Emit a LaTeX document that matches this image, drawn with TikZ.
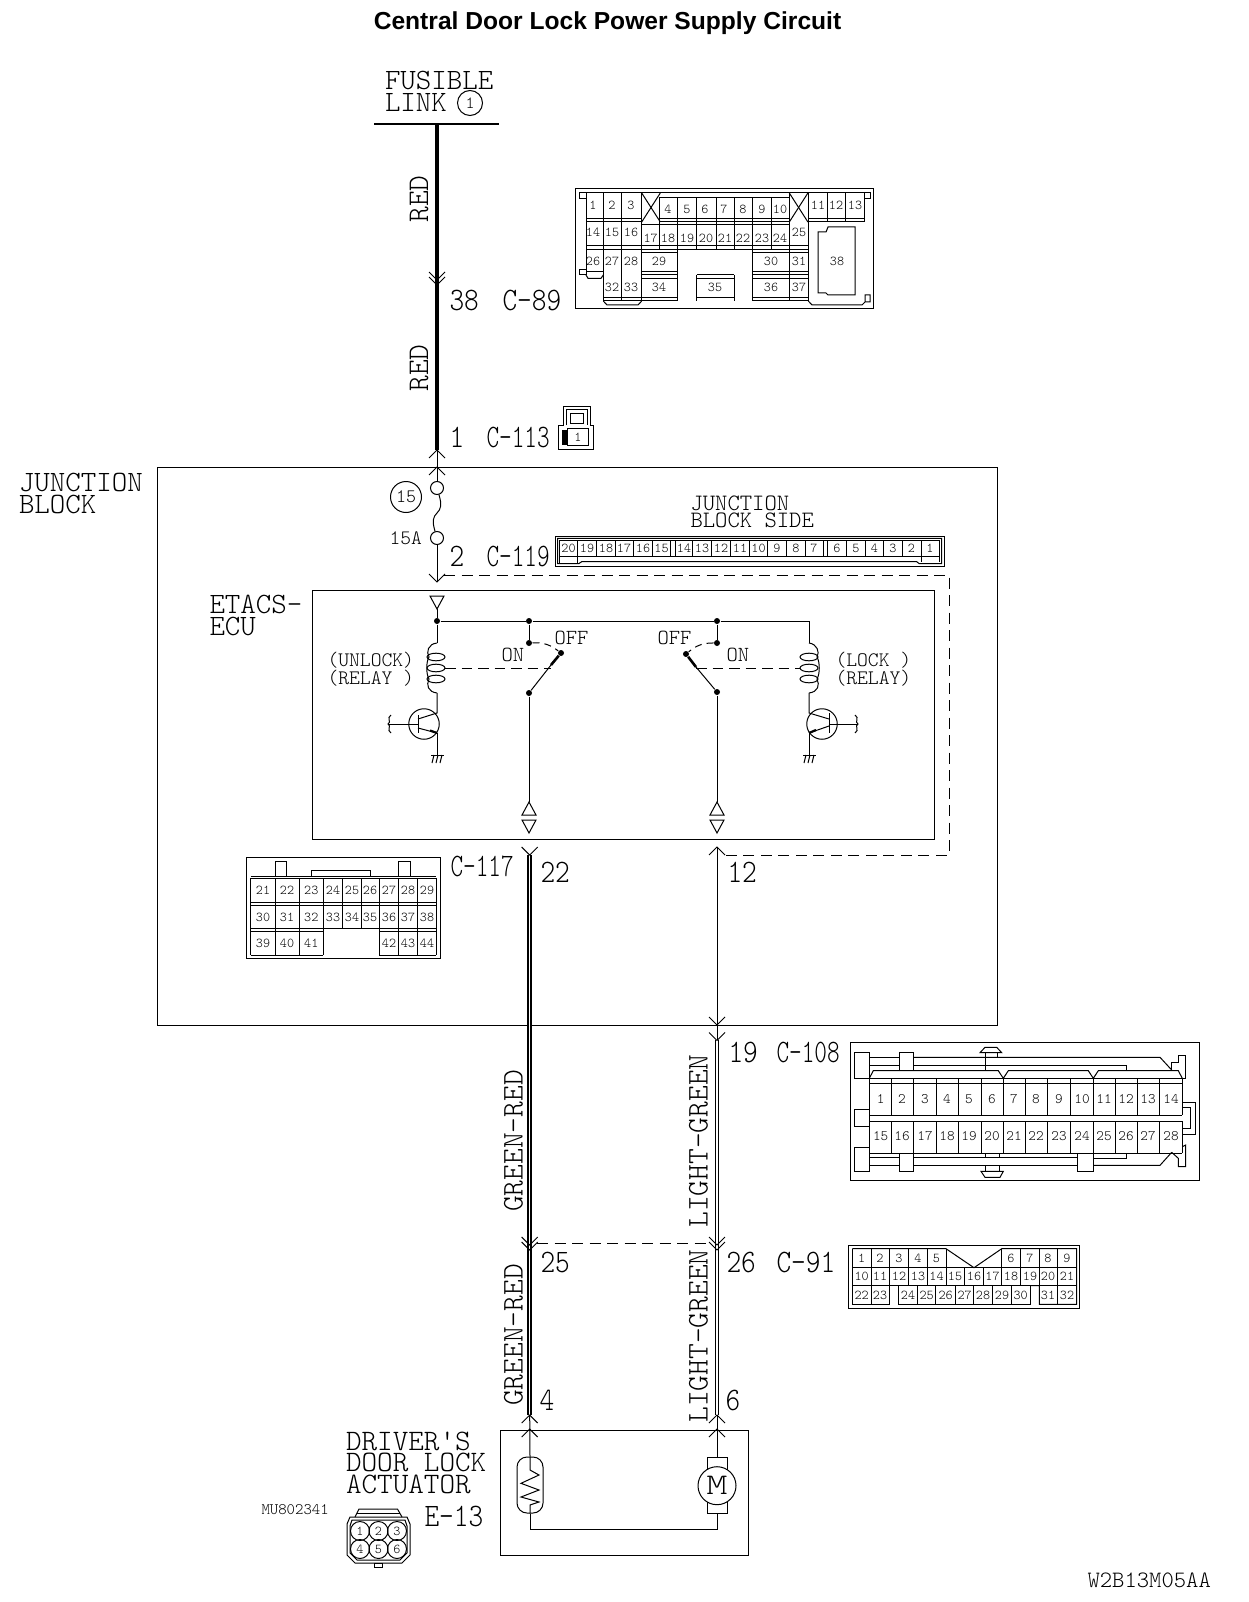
\documentclass[tikz,border=0pt]{standalone}
\usepackage{fontspec}
\usepackage{graphicx}
\usetikzlibrary{positioning}
\newfontfamily\titlefont{Liberation Sans}
\newcommand{\cad}[2]{\fontsize{#1}{#2}\fontseries{l}\ttfamily\selectfont}
\newcommand{\tagbox}[2][1]{\scalebox{#1}[1.17]{#2}}

\tikzset{
  chevup/.pic={\draw (-8,8) -- (0,0) -- (8,8);},
  chevdn/.pic={\draw (-8,-8) -- (0,0) -- (8,-8);},
  triup/.pic={\draw (-7,13) -- (0,0) -- (7,13) -- cycle;},
  tridn/.pic={\draw (-7,-13) -- (0,0) -- (7,-13) -- cycle;},
}

\begin{document}
\begin{tikzpicture}[
x=1pt,y=-1pt,line width=1pt,
wirebold/.style={line width=4pt},
wiredbl/.style={double,double distance=1.5pt,line width=1.6pt},
linkdash/.style={dashed,dash pattern=on 11pt off 6.5pt},
relaydash/.style={dashed,dash pattern=on 10.5pt off 6pt},
dotpin/.style={circle,fill=black,inner sep=0pt,minimum size=6pt},
pinnum/.style={font=\cad{13.5}{13.5},inner sep=0pt},
bigpin/.style={font=\cad{14.5}{14.5},inner sep=0pt},
tagtxt/.style={font=\cad{28}{22},inner sep=0pt,anchor=base west},
blocktxt/.style={font=\cad{29.5}{22},inner sep=0pt,anchor=north west,align=left},
colourtxt/.style={font=\cad{30}{22},inner sep=0pt,anchor=base,rotate=90},
midtxt/.style={font=\cad{23.5}{17},inner sep=0pt,anchor=north west,align=left},
relaytxt/.style={font=\cad{20.6}{18},inner sep=0pt,anchor=north west,align=left},
smalltxt/.style={font=\cad{21.5}{18},inner sep=0pt,anchor=north west,align=left}]
    \useasboundingbox (0,0) rectangle (1248,1602);

    \node[font=\titlefont\bfseries\fontsize{24.6}{25}\selectfont,inner sep=0pt] (title) at (607.5,23) {Central Door Lock Power Supply Circuit};

    % Fusible link and first wire
    \node[blocktxt] (fusible) at (384.5,71) {FUSIBLE\\LINK};
    \node[draw,circle,minimum size=25pt,inner sep=0pt,font=\cad{17}{17}] (fl1) at (470,103) {1};
    \coordinate (barl) at (374,124);
    \coordinate (barr) at (499,124);
    \coordinate (feedtop) at (437,124);
    \coordinate (feedend) at (437,450);
    \draw[line width=2pt] (barl) -- (barr);
    \draw[wirebold] (feedtop) -- (feedend);
    \pic at (437,285) {chevdn};
    \pic at (437,280) {chevdn};
    \pic at (437,450) {chevup};
    \pic at (437,467) {chevup};
    \node[colourtxt] (red1) at (428,199) {RED};
    \node[colourtxt] (red2) at (428,368) {RED};
    \node[tagtxt] (pin38) at (449,310) {\tagbox{38}};
    \node[tagtxt] (c89) at (502,310) {\tagbox{C-89}};
    \node[tagtxt] (pin1) at (449,447) {\tagbox{1}};
    \node[tagtxt] (c113) at (486,447) {\tagbox[0.86]{C-113}};

    % C-113
    \draw (563,425) |- (590,406) -- (590,425) -- (593.5,425) |- (558.5,449) |- cycle;
    \draw (566,425) |- (587,409) -- (587,425);
    \draw (570,413) rectangle (583,423);
    \draw (567,428) rectangle (588,445);
    \fill (562,430) rectangle (567,445);
    \node[pinnum] (c113-1) at (578,437) {1};

    % C-89
    \draw (575,189) rectangle (873,309);
    \draw (579,199) -- (579,193) -- (870,193) -- (870,199) -- (864,199);
    \draw (579,199) -- (586,199);
    \draw (586,193) -- (586,275) -- (579,275) -- (579,269.3) -- (586,269.3);
    \draw (586,271.7) -- (603.3,271.7);
    \draw (586,275) -- (588,278.3) -- (601,278.3) -- (603.3,275);
    \foreach \x in {603.3,621.7,641.7,789.3,808.3} \draw (\x,193) -- (\x,301);
    \foreach \x in {827.7,845.7,864} \draw (\x,193) -- (\x,222);
    \foreach \x in {659.3,677.3,696.7,716,734,752.7,771.3} \draw (\x,198) -- (\x,249);
    \draw (659.3,198) -- (789.3,198);
    \foreach \y in {218.3,221.7} {
      \draw (586,\y) -- (641.7,\y);
      \draw (659.3,\y) -- (789.3,\y);
      \draw (808.3,\y) -- (864,\y);
    }
    \draw (641.7,225) -- (789.3,225);
    \foreach \y in {246,249.3} {
      \draw (586,\y) -- (641.7,\y);
      \draw (641.7,\y) -- (808.3,\y);
    }
    \foreach \x in {641.7,789.3} {
      \draw (\x,193) -- (\x+18.6,222);
      \draw (\x+18.6,193) -- (\x,222);
    }
    \draw (677.3,249.3) -- (677.3,301);
    \draw (752.7,249.3) -- (752.7,301);
    \draw (696.7,275) -- (696.7,301);
    \draw (734,275) -- (734,301);
    \foreach \y in {253,271.7,275,278.3} {
      \draw (641.7,\y) -- (677.3,\y);
      \draw (752.7,\y) -- (808.3,\y);
    }
    \draw (696.7,275) -- (734,275);
    \draw (696.7,278.3) -- (734,278.3);
    \draw (603.3,297.3) -- (677.3,297.3);
    \draw (696.7,297.3) -- (734,297.3);
    \draw (752.7,297.3) -- (808.3,297.3);
    \draw (603.3,301) -- (677.3,301);
    \draw (752.7,301) -- (808.3,301);
    \draw (603.3,301) -- (607,305) -- (638,305) -- (641.7,301);
    \draw (808.3,301) -- (812,305) -- (862,305) -- (865,302) -- (870,302) -- (870,295) -- (865,295) -- (865,302);
    \draw (818,232) -- (826,232) -- (828,227) -- (855,227) -- (855,295) -- (828,295) -- (826,293) -- (818,293) -- cycle;
    \foreach \x/\n in {593/1,612/2,631/3,818/11,836/12,855/13} \node[pinnum] (ca\n) at (\x,205) {\n};
    \foreach \x/\n in {668/4,687/5,705/6,724/7,743/8,762/9,780/10} \node[pinnum] (ca\n) at (\x,209) {\n};
    \foreach \x/\n in {593/14,612/15,631/16,799/25} \node[pinnum] (ca\n) at (\x,232) {\n};
    \foreach \x/\n in {650.7/17,668/18,687/19,706/20,725/21,743/22,762/23,780/24} \node[pinnum] (ca\n) at (\x,238) {\n};
    \foreach \x/\n in {593/26,612/27,631/28,659/29,771/30,799/31,837/38} \node[pinnum] (ca\n) at (\x,261) {\n};
    \foreach \x/\n in {612/32,631/33,659/34,715/35,771/36,799/37} \node[pinnum] (ca\n) at (\x,287) {\n};

    % Junction block
    \draw (157.5,467) rectangle (997,1025);
    \node[blocktxt] (jblock) at (18.5,472.5) {JUNCTION\\BLOCK};
    \node[draw,circle,minimum size=31pt,inner sep=0pt,font=\cad{19}{19}] (fuseno) at (406,497) {15};
    \node[draw,circle,minimum size=13pt,inner sep=0pt] (fusea) at (437,488) {};
    \node[draw,circle,minimum size=13pt,inner sep=0pt] (fuseb) at (437,538) {};
    \coordinate (feedin) at (437,450);
    \coordinate (fusechev) at (437,582);
    \draw (feedin) -- (fusea);
    \draw (fusea) .. controls (442,505) and (441,509) .. (437,513) .. controls (433,517) and (432,521) .. (fuseb);
    \draw (fuseb) -- (fusechev);
    \pic at (fusechev) {chevdn};
    \node[font=\cad{20.5}{20},inner sep=0pt,anchor=base west] (amps) at (389,544) {15A};
    \node[tagtxt] (pin2) at (449,566) {\tagbox{2}};
    \node[tagtxt] (c119) at (486,566) {\tagbox[0.86]{C-119}};
    \node[midtxt] (jbside) at (690,495) {JUNCTION\\BLOCK SIDE};

    % C-119
    \draw (555,536) rectangle (944,566);
    \draw (557.5,538.3) -- (941.5,538.3) -- (941.5,563.5) -- (919,563.5) -- (916.7,561.7) -- (581.7,561.7) -- (579,563.5) -- (557.5,563.5) -- cycle;
    \draw (559.3,540) -- (939.3,540);
    \draw (559.3,556) -- (939.3,556);
    \foreach \x in {559.3,577.7,596.7,615.3,633.3,652.3,670.7,675,692.7,711.7,730.7,749.3,767.7,786.7,805.3,823.3,827.3,846.7,865.7,883.3,902.3,921,939.3} \draw (\x,540) -- (\x,556);
    \draw (559.3,556) -- (559.3,563.5);
    \draw (577.7,556) -- (577.7,563.5);
    \draw (921,556) -- (921,561.7);
    \draw (939.3,556) -- (939.3,561.7);
    \foreach \x/\n in {568.5/20,587/19,606/18,624/17,643/16,661.5/15,684/14,702/13,721/12,740/11,758.5/10,777/9,796/8,814/7,837/6,856/5,874.5/4,893/3,911.5/2,930/1}
      \node[pinnum] (cj\n) at (\x,548.7) {\n};

    % Dashed feed
    \coordinate (dashst) at (444,575);
    \coordinate (dashtr) at (949,575);
    \coordinate (dashbr) at (949,855);
    \coordinate (dashen) at (725,855);
    \draw[linkdash] (dashst) -- (dashtr) -- (dashbr) -- (dashen);

    % ETACS-ECU
    \draw (312,590) rectangle (934,839);
    \node[blocktxt] (etacs) at (209,594.5) {ETACS-\\ECU};
    \pic at (437,609) {tridn};
    \node[dotpin] (bus1) at (437,621) {};
    \node[dotpin] (bus2) at (529,621) {};
    \node[dotpin] (bus3) at (717,621) {};
    \coordinate (bus4) at (809,621);
    \coordinate (buscap) at (437,609);
    \draw (buscap) -- (bus1) -- (bus2) -- (bus3) -- (bus4);

    % Unlock relay
    \coordinate (coila) at (437,643);
    \coordinate (coilb) at (437,693);
    \draw (bus1) -- (coila);
    \draw (coila) .. controls (428,644) and (426,652) .. (429,657) .. controls (426,662) and (426,674) .. (429,679) .. controls (426,685) and (428,692) .. (coilb);
    \foreach \y in {657,668,679} \draw (436,\y) ellipse [x radius=9,y radius=3.8];
    \node[relaytxt] (unlockrly) at (327,652) {(UNLOCK)\\(RELAY )};
    \node[dotpin] (swa) at (529,643) {};
    \node[dotpin] (swb) at (561,653) {};
    \node[dotpin] (swc) at (529,693) {};
    \coordinate (swm) at (551,665);
    \coordinate (swd) at (551,668);
    \coordinate (coilm) at (445,668);
    \draw (bus2) -- (swa);
    \draw (swc) -- (swm);
    \draw[line width=2.6pt] (swm) -- (swb);
    \draw[dashed,dash pattern=on 7pt off 5pt] (swa) to[bend left=20] (swb);
    \draw[relaydash] (coilm) -- (swd);
    \node[smalltxt] (offa) at (554,631) {OFF};
    \node[smalltxt] (ona) at (501,648) {ON};
    \node[draw,circle,minimum size=30.5pt,inner sep=0pt] (qa) at (424,724) {};
    \coordinate (qabase) at (418,724);
    \coordinate (qain) at (389,724);
    \coordinate (qaem) at (437,733);
    \coordinate (qagnd) at (437,755);
    \draw (coilb) -- (437,713) -- (418,719);
    \draw (418,715) -- (418,733);
    \draw (qain) -- (qabase);
    \draw (418,728) -- (qaem);
    \draw[line width=2.2pt] (430,730.5) -- (qaem);
    \draw (qaem) -- (qagnd);
    \draw (391,715) .. controls (386,718) and (392,722) .. (388,724) .. controls (392,726) and (386,730) .. (391,733);
    \draw (431,755) -- (444,755);
    \foreach \x in {434,438,442} \draw (\x,755) -- (\x-2,763);

    % Lock relay
    \coordinate (coilc) at (809,643);
    \coordinate (coild) at (809,693);
    \draw (bus4) -- (coilc);
    \draw (coilc) .. controls (817,644) and (820,652) .. (817,657) .. controls (820,662) and (820,674) .. (817,679) .. controls (820,685) and (818,692) .. (coild);
    \foreach \y in {657,668,679} \draw (809,\y) ellipse [x radius=9,y radius=3.8];
    \node[relaytxt] (lockrly) at (835,652) {(LOCK )\\(RELAY)};
    \node[dotpin] (swe) at (717,643) {};
    \node[dotpin] (swf) at (686,654) {};
    \node[dotpin] (swg) at (717,692) {};
    \coordinate (swn) at (696,667);
    \coordinate (swh) at (696,668);
    \coordinate (coiln) at (800,668);
    \draw (bus3) -- (swe);
    \draw (swg) -- (swn);
    \draw[line width=2.6pt] (swn) -- (swf);
    \draw[dashed,dash pattern=on 7pt off 5pt] (swe) to[bend right=20] (swf);
    \draw[relaydash] (swh) -- (coiln);
    \node[smalltxt] (offb) at (657,631) {OFF};
    \node[smalltxt] (onb) at (726,648) {ON};
    \node[draw,circle,minimum size=30.5pt,inner sep=0pt] (qb) at (822,724) {};
    \coordinate (qbbase) at (829,724);
    \coordinate (qbin) at (857,724);
    \coordinate (qbem) at (809,733);
    \coordinate (qbgnd) at (809,755);
    \draw (coild) -- (809,713) -- (829,719);
    \draw (829,713) -- (829,733);
    \draw (qbin) -- (qbbase);
    \draw (829,726) -- (qbem);
    \draw[line width=2.2pt] (816,730) -- (qbem);
    \draw (qbem) -- (qbgnd);
    \draw (855,715) .. controls (860,718) and (854,722) .. (858,724) .. controls (854,726) and (860,730) .. (855,733);
    \draw (803,755) -- (816,755);
    \foreach \x in {806,810,814} \draw (\x,755) -- (\x-2,763);

    % Outputs to C-117
    \coordinate (outa) at (529,802);
    \coordinate (outb) at (717,802);
    \draw (swc) -- (outa);
    \draw (swg) -- (outb);
    \foreach \x in {529,717} {
      \pic at (\x,802) {triup};
      \pic at (\x,833) {tridn};
    }
    \coordinate (wa1) at (529.7,855);
    \coordinate (wa2) at (529.7,1415);
    \coordinate (wb0) at (717,847);
    \coordinate (wb1) at (717,1040);
    \coordinate (wb2) at (717,1415);
    \draw[wiredbl] (wa1) -- (wa2);
    \draw (wb0) -- (wb1);
    \draw[wiredbl] (wb1) -- (wb2);
    \pic at (529.7,855) {chevdn};
    \pic at (717,847) {chevup};
    \pic at (717,1025) {chevdn};
    \pic at (717,1040.5) {chevdn};
    \node[tagtxt] (c117) at (450,876) {\tagbox[0.86]{C-117}};
    \node[tagtxt] (pin22) at (540,882) {\tagbox{22}};
    \node[tagtxt] (pin12) at (727,882) {\tagbox{12}};

    % C-117
    \draw (246.7,857) rectangle (440,958);
    \draw (275,876.7) |- (286.7,861.7) -- (286.7,876.7);
    \draw (398.3,876.7) |- (410,861.7) -- (410,876.7);
    \draw (311.7,876.7) |- (370.7,870.7) -- (370.7,876.7);
    \draw (250.7,876.7) -- (436,876.7);
    \draw (250.7,878) -- (436,878);
    \foreach \y in {902.7,905} \draw (250.7,\y) -- (436,\y);
    \draw (250.7,928.3) -- (436,928.3);
    \draw (250.7,931) -- (323.3,931);
    \draw (379.3,931) -- (436,931);
    \draw (250.7,955) -- (323.3,955);
    \draw (379.3,955) -- (436,955);
    \foreach \x in {250.7,275,299.3,323.3,379.3,398.3,417.3,436} {
      \draw (\x,878) -- (\x,955);
    }
    \foreach \x in {342.3,361.3} \draw (\x,878) -- (\x,928.3);
    \foreach \x/\n in {263/21,287/22,311.3/23,333/24,352/25,370/26,389/27,408/28,427/29} \node[pinnum] (cb\n) at (\x,890.5) {\n};
    \foreach \x/\n in {263/30,287/31,311.3/32,333/33,352/34,370/35,389/36,408/37,427/38} \node[pinnum] (cb\n) at (\x,917) {\n};
    \foreach \x/\n in {263/39,287/40,311.3/41,389/42,408/43,427/44} \node[pinnum] (cb\n) at (\x,943) {\n};

    % C-108
    \node[tagtxt] (pin19) at (728,1062) {\tagbox{19}};
    \node[tagtxt] (c108) at (776,1062) {\tagbox[0.86]{C-108}};
    \draw (850.3,1042.7) rectangle (1199.3,1180);
    \foreach \y in {1078.3,1083.3,1115,1121.3,1153.3} \draw (869.3,\y) -- (1182.3,\y);
    \foreach \x in {869.3,891.3,913.3,936.3,958.3,981.3,1003.3,1025.3,1047.3,1070.3,1093.3,1115.3,1137.3,1159.3,1182.3} {
      \draw (\x,1078.3) -- (\x,1115);
      \draw (\x,1121.3) -- (\x,1153.3);
    }
    \draw (854.3,1052.7) rectangle (869.3,1078.3);
    \draw (854.3,1109.3) rectangle (869.3,1126);
    \draw (854.3,1147.3) rectangle (869.3,1171.3);
    \draw (899.3,1052.7) rectangle (913.3,1070.7);
    \draw (899.3,1153.3) rectangle (913.3,1171.3);
    \draw (1077.7,1153.3) rectangle (1093.3,1171.3);
    \draw (869.3,1057.3) -- (899.3,1057.3);
    \draw (913.3,1057.3) -- (1160,1057.3) -- (1171.7,1070);
    \draw (869.3,1065) -- (899.3,1065);
    \draw (913.3,1065) -- (1126.7,1065) -- (1126.7,1070.7);
    \draw (869.3,1078.3) -- (873.3,1070.7) -- (998.3,1070.7) -- (1003.3,1078.3) -- (1008.3,1070.7) -- (1088.3,1070.7) -- (1093.3,1078.3) -- (1098.3,1070.7) -- (1178.3,1070.7) -- (1182.3,1078.3);
    \draw (1171.7,1070) -- (1171.7,1062.7) -- (1178.3,1062.7) -- (1178.3,1055) -- (1185.7,1055) -- (1185.7,1078.3) -- (1182.3,1078.3);
    \draw (1182.3,1102.7) -| (1195.7,1134.3) -- (1182.3,1134.3);
    \draw (1182.3,1107.3) -| (1190,1128.3) -- (1182.3,1128.3);
    \draw (869.3,1157.3) -- (899.3,1157.3);
    \draw (869.3,1165.3) -- (899.3,1165.3);
    \draw (913.3,1157.3) -- (1077.7,1157.3);
    \draw (913.3,1165.3) -- (1077.7,1165.3);
    \draw (1093.3,1165.3) -- (1160,1165.3) -- (1171.7,1152.3);
    \draw (1093.3,1158.3) -- (1126.7,1158.3) -- (1126.7,1153.3);
    \draw (1171.7,1152.3) -- (1178.3,1158.3) -- (1178.3,1166.7) -- (1185.7,1166.7) -- (1185.7,1145) -- (1182.3,1146.7);
    \draw (985.7,1053) -- (985.7,1070.7);
    \draw (997.7,1053) -- (997.7,1057.3);
    \draw (980,1052.7) -- (985,1047.3) -- (996.7,1047.3) -- (1001.7,1052.7) -- cycle;
    \draw (985.7,1153.3) -- (985.7,1157.3);
    \draw (999.3,1153.3) -- (999.3,1157.3);
    \draw (985.7,1165.3) -- (985.7,1171.3);
    \draw (999.3,1165.3) -- (999.3,1171.3);
    \draw (981,1171.3) -- (1003.3,1171.3) -- (1000,1177.3) -- (985,1177.3) -- cycle;
    \foreach \x/\n in {880.7/1,902/2,925/3,947/4,969/5,992/6,1014/7,1036/8,1059/9,1082/10,1104/11,1126/12,1148/13,1171/14} \node[bigpin] (cc\n) at (\x,1099.3) {\n};
    \foreach \x/\n in {880.7/15,902/16,925/17,947/18,969/19,992/20,1014/21,1036/22,1059/23,1082/24,1104/25,1126/26,1148/27,1171/28} \node[bigpin] (cc\n) at (\x,1136.3) {\n};

    % Colour labels
    \node[colourtxt] (gr1) at (522.5,1141) {GREEN-RED};
    \node[colourtxt] (gr2) at (522.5,1335) {GREEN-RED};
    \node[colourtxt] (lg1) at (707.5,1141) {LIGHT-GREEN};
    \node[colourtxt] (lg2) at (707.5,1336) {LIGHT-GREEN};

    % C-91 joint
    \pic at (529.7,1245) {chevdn};
    \pic at (529.7,1250) {chevdn};
    \pic at (717,1245) {chevdn};
    \pic at (717,1250) {chevdn};
    \coordinate (jointa) at (537,1243);
    \coordinate (jointb) at (710,1243);
    \draw[linkdash] (jointa) -- (jointb);
    \node[tagtxt] (pin25) at (540,1272) {\tagbox{25}};
    \node[tagtxt] (pin26) at (726,1272) {\tagbox{26}};
    \node[tagtxt] (c91) at (776,1272) {\tagbox{C-91}};
    \draw (848.3,1245) rectangle (1079.3,1308);
    \draw (852.3,1248.7) -- (946,1248.7) -- (974,1267.7) -- (1001.7,1248.7) -- (1076.7,1248.7) -- (1076.7,1304.3) -- (1039.3,1304.3) -- (1039.3,1285.7) -- (1030,1285.7);
    \draw (852.3,1248.7) -- (852.3,1304.3) -- (889.3,1304.3) -- (889.3,1285.7);
    \draw (852.3,1267.7) -- (1076.7,1267.7);
    \draw (852.3,1285.7) -- (1076.7,1285.7);
    \draw (898.7,1285.7) -- (898.7,1304.3) -- (1030,1304.3) -- (1030,1285.7);
    \foreach \x in {871,889.3,908.3,927.3,946,1001.7,1020,1039.3,1057.3} \draw (\x,1248.7) -- (\x,1267.7);
    \foreach \x in {871,889.3,908.3,927.3,946,964.7,983.3,1001.7,1020,1039.3,1057.3} \draw (\x,1267.7) -- (\x,1285.7);
    \foreach \x in {871,917.7,935.7,955.7,973.7,992.7,1011.3,1057.3} \draw (\x,1285.7) -- (\x,1304.3);
    \foreach \x/\n in {861.7/1,880/2,899/3,918/4,936.5/5,1011/6,1030/7,1048/8,1067/9} \node[pinnum] (cd\n) at (\x,1258) {\n};
    \foreach \x/\n in {861.7/10,880/11,899/12,918/13,936.5/14,955/15,974/16,992.5/17,1011/18,1030/19,1048/20,1067/21} \node[pinnum] (cd\n) at (\x,1276.5) {\n};
    \foreach \x/\n in {861.7/22,880/23,908/24,926.7/25,945.7/26,964.7/27,983/28,1002/29,1020.7/30,1048/31,1067/32} \node[pinnum] (cd\n) at (\x,1295) {\n};

    % Actuator
    \node[tagtxt] (pin4) at (539,1410) {\tagbox{4}};
    \node[tagtxt] (pin6) at (725,1410) {\tagbox{6}};
    \draw (500,1430) rectangle (748.5,1555);
    \pic at (529.7,1415) {chevup};
    \pic at (529.7,1429) {chevup};
    \pic at (717,1415) {chevup};
    \pic at (717,1429) {chevup};
    \node[draw,rounded corners=10pt,minimum width=26pt,minimum height=56pt,inner sep=0pt] (heater) at (530,1485) {};
    \node[draw,minimum width=20pt,minimum height=56pt,inner sep=0pt] (motorbody) at (717,1485) {};
    \node[draw,circle,fill=white,minimum size=38pt,inner sep=0pt,font=\cad{30}{30}] (motor) at (717,1485.7) {\scalebox{1.35}[1]{M}};
    \coordinate (wirelow) at (530,1529);
    \coordinate (wirelowb) at (717,1529);
    \draw (wa2) -- (heater.north);
    \draw (wb2) -- (motorbody.north);
    \draw (heater.south) -- (wirelow) -- (wirelowb) -- (motorbody.south);
    \draw (heater.north) -- (530,1470) -- (539,1475) -- (521,1483.3) -- (539,1490) -- (521,1497) -- (539,1502) -- (530,1505) -- (heater.south);
    \node[font=\cad{29.7}{21.5},inner sep=0pt,anchor=north west,align=left] (driver) at (345.5,1431.5) {DRIVER'S\\DOOR LOCK\\ACTUATOR};
    \node[tagtxt] (e13) at (424,1526) {\tagbox{E-13}};
    \node[font=\cad{16}{16},inner sep=0pt,anchor=base west] (mucode) at (261,1514) {MU802341};

    % E-13
    \draw (350,1517) -- (407,1517) -- (410,1524) -- (410,1555) -- (402,1563) -- (355,1563) -- (347,1555) -- (347,1524) -- cycle;
    \draw (352,1520) -- (405,1520) -- (407,1526) -- (407,1553) -- (400,1560) -- (357,1560) -- (350,1553) -- (350,1526) -- cycle;
    \draw (355,1517) -- (359,1509) -- (397.5,1509) -- (402,1517);
    \draw (357,1513) -- (400,1513);
    \draw (374,1563) rectangle (382,1567);
    \foreach \x/\y/\n in {360/1531/1,378.5/1531/2,397/1531/3,360/1549/4,378.5/1549/5,397/1549/6}
      \node[draw,circle,minimum size=19pt,inner sep=0pt,font=\cad{13.5}{13.5}] (ce\n) at (\x,\y) {\n};

    \node[font=\cad{23.5}{23.5},inner sep=0pt,anchor=base west] (drawno) at (1087,1587) {W2B13M05AA};
\end{tikzpicture}
\end{document}
